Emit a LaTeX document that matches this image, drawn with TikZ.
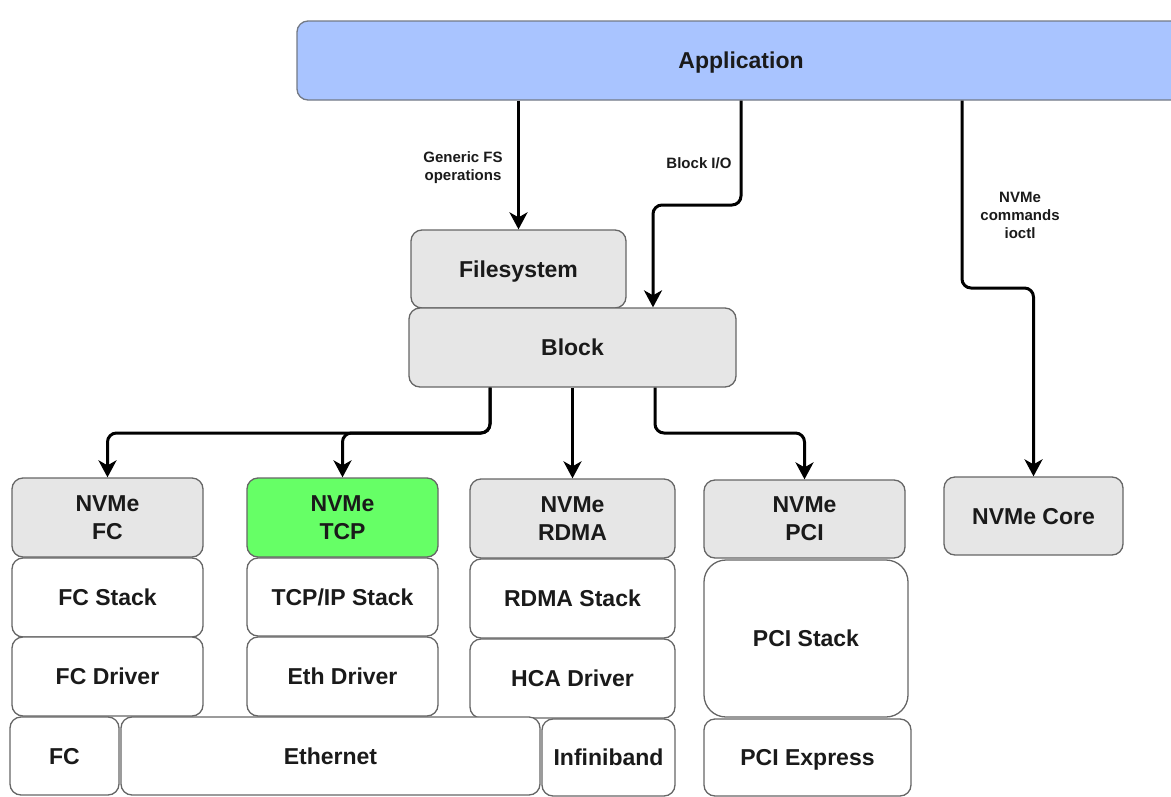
\documentclass[tikz,border=0pt]{standalone}
\usepackage{fontspec}
\setmainfont{Liberation Sans}
\usetikzlibrary{arrows.meta}
\definecolor{appblue}{HTML}{A9C4FF}
\definecolor{grayfill}{HTML}{E6E6E6}
\definecolor{greenfill}{HTML}{66FF66}
\definecolor{boxline}{HTML}{666666}
\definecolor{txt}{HTML}{1A1A1A}
\newcommand\boxfont{\bfseries\fontsize{23}{28}\selectfont}
\newcommand\lblfont{\bfseries\fontsize{15}{18}\selectfont}
\begin{document}
\begin{tikzpicture}[x=1pt,y=-1pt,
  box/.style={draw=boxline, line width=1.3pt, rounded corners=11pt, font=\boxfont,
    align=center, inner sep=0pt, text=txt},
  one/.style={text height=16.5pt, text depth=0pt},
  gbox/.style={box, fill=grayfill},
  wbox/.style={box, fill=white, one},
  arr/.style={draw=black, line width=3pt, rounded corners=9pt,
    -{Stealth[length=17pt,width=18pt,inset=5pt]}},
  lbl/.style={font=\lblfont, text=txt, align=center, inner sep=0pt}]
\useasboundingbox (0,0) rectangle (1171,796);
\clip (0,0) rectangle (1171,796);

% nodes
\node[box, one, fill=appblue, draw=boxline!80!appblue, minimum width=888, minimum height=79] (app) at (741,60.5) {Application};
\node[gbox, one, minimum width=215, minimum height=78] (fs) at (518.5,269) {Filesystem};
\node[gbox, one, minimum width=327, minimum height=79] (block) at (572.5,347.5) {Block};

\node[gbox, minimum width=191, minimum height=79] (nfc) at (107.5,517.5) {NVMe\\FC};
\node[box, fill=greenfill, minimum width=191, minimum height=79] (ntcp) at (342.5,517.5) {NVMe\\TCP};
\node[gbox, minimum width=205, minimum height=79] (nrdma) at (572.5,518.5) {NVMe\\RDMA};
\node[gbox, minimum width=201, minimum height=78] (npci) at (804.5,519) {NVMe\\PCI};
\node[gbox, one, minimum width=179, minimum height=78] (ncore) at (1033.5,516) {NVMe Core};

\node[wbox, minimum width=191, minimum height=79] (fcstack) at (107.5,597.5) {FC Stack};
\node[wbox, minimum width=191, minimum height=79] (fcdrv) at (107.5,676.5) {FC Driver};
\node[wbox, minimum width=191, minimum height=78] (tcpstack) at (342.5,597) {TCP/IP Stack};
\node[wbox, minimum width=191, minimum height=79] (ethdrv) at (342.5,676.5) {Eth Driver};
\node[wbox, minimum width=205, minimum height=79] (rdmastack) at (572.5,598.5) {RDMA Stack};
\node[wbox, minimum width=205, minimum height=79] (hcadrv) at (572.5,678.5) {HCA Driver};
\node[wbox, rounded corners=22pt, minimum width=204, minimum height=157] (pcistack) at (806,638.5) {PCI Stack};
\node[wbox, minimum width=207, minimum height=77] (pciexp) at (807.5,757.5) {PCI Express};
\node[wbox, minimum width=109, minimum height=78] (fc) at (64.5,756) {FC};
\node[wbox, minimum width=419, minimum height=78] (eth) at (330.5,756) {Ethernet};
\node[wbox, minimum width=133, minimum height=77] (ib) at (608.5,757.5) {Infiniband};

% labels
\node[lbl] (lgfs) at (463,168) {Generic FS\\operations};
\node[lbl] (lbio) at (699,163) {Block I/O};
\node[lbl] (lcmd) at (1020,215) {NVMe\\commands\\ioctl};

% helper coordinates
\coordinate (jb) at (0,205);
\coordinate (jc) at (0,288);
\coordinate (jl) at (0,433);

% connectors
\draw[arr] (fs.north |- app.south) -- (fs.north);
\draw[arr] (app.south) -- (app.south |- jb) -| ([xshift=80.5pt]block.north);
\draw[arr] ([xshift=221pt]app.south) -- ([xshift=221pt]app.south |- jc) -| (ncore.north);
\draw[arr] ([xshift=-82.5pt]block.south) |- (nfc.north |- jl) -- (nfc.north);
\draw[arr] ([xshift=-82.5pt]block.south) |- (ntcp.north |- jl) -- (ntcp.north);
\draw[arr] (block.south) -- (nrdma.north);
\draw[arr] ([xshift=82.5pt]block.south) |- (npci.north |- jl) -- (npci.north);
\end{tikzpicture}
\end{document}
